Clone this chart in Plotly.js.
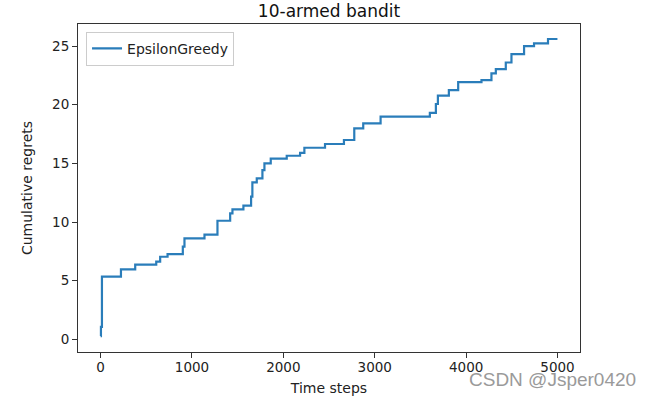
<!DOCTYPE html>
<html>
<head>
<meta charset="utf-8">
<script src="https://cdn.plot.ly/plotly-3.0.1.min.js"></script>
<style>
  html, body { margin: 0; padding: 0; background: #fff; }
  #graph { width: 648px; height: 400px; }
</style>
</head>
<body>
<div id="graph"></div>
<script>
/*time step at which each regret step happens*/
var timeSteps = [0, 4, 15, 223, 379, 609, 652, 733, 900, 918, 1137, 1279, 1418, 1443, 1563,
    1647, 1661, 1709, 1771, 1793, 1862, 2037, 2183, 2230, 2456, 2663, 2776, 2874, 3064,
    3603, 3669, 3691, 3811, 3913, 4168, 4277, 4325, 4434, 4496, 4634, 4743, 4896, 4999];
/*cumulative regret after each step*/
var regrets = [0.28, 1.07, 5.34, 5.97, 6.36, 6.62, 7.04, 7.27, 7.9, 8.61, 8.92, 10.11, 10.74, 11.08, 11.39,
    12.16, 13.38, 13.72, 14.43, 15.0, 15.4, 15.65, 15.9, 16.33, 16.65, 16.99, 17.99, 18.41, 18.98,
    19.3, 20.06, 20.77, 21.25, 21.93, 22.1, 22.67, 23.04, 23.6, 24.32, 25.0, 25.23, 25.6, 25.6];
var xTicks = [0, 1000, 2000, 3000, 4000, 5000];
var yTicks = [0, 5, 10, 15, 20, 25];

var font = 'DejaVu Sans, sans-serif';

function drawGraph() {
    var greedy = {
        x: timeSteps,
        y: regrets,
        type: 'scatter',
        mode: 'lines',
        name: 'EpsilonGreedy',
        line: { color: '#2a7dba', width: 2.2, shape: 'hv' } /*step line like matplotlib*/
    };
    var axisStyle = {
        showline: true,
        mirror: true,
        linecolor: '#333',
        linewidth: 1,
        ticks: 'outside',
        ticklen: 5,
        tickwidth: 1,
        tickcolor: '#333',
        showgrid: false,
        zeroline: false,
        tickfont: { family: font, size: 13.5, color: '#222' }
    };
    var layout = {
        width: 648,
        height: 400,
        paper_bgcolor: '#fff',
        plot_bgcolor: '#fff',
        margin: { l: 78, r: 68, t: 24, b: 48 },
        title: {
            text: '10-armed bandit',
            font: { family: font, size: 17, color: '#111' },
            xref: 'paper', x: 0.5, xanchor: 'center',
            yref: 'container', y: 0.972, yanchor: 'middle'
        },
        xaxis: Object.assign({}, axisStyle, {
            range: [-247, 5246],
            tickvals: xTicks,
            ticktext: xTicks.map(String),
            ticklabelstandoff: -2,
            title: { text: 'Time steps', font: { family: font, size: 14, color: '#222' }, standoff: 8 }
        }),
        yaxis: Object.assign({}, axisStyle, {
            range: [-1.08, 26.88],
            tickvals: yTicks,
            ticktext: yTicks.map(String),
            title: { text: 'Cumulative regrets', font: { family: font, size: 14, color: '#222' }, standoff: 16 }
        }),
        showlegend: true,
        legend: {
            x: 0.016, y: 0.976, xanchor: 'left', yanchor: 'top',
            bgcolor: '#fff', bordercolor: '#ccc', borderwidth: 1,
            font: { family: font, size: 14, color: '#222' }
        },
        annotations: [{
            /*watermark in the lower right corner*/
            text: 'CSDN @Jsper0420',
            xref: 'paper', yref: 'paper',
            x: 0.775, y: -0.085, xanchor: 'left', yanchor: 'middle',
            showarrow: false,
            font: { family: 'Liberation Sans, Arial, sans-serif', size: 19, color: '#9a9a9a' }
        }]
    };
    Plotly.newPlot('graph', [greedy], layout, { displayModeBar: false, staticPlot: true });
}
drawGraph();
</script>
</body>
</html>
